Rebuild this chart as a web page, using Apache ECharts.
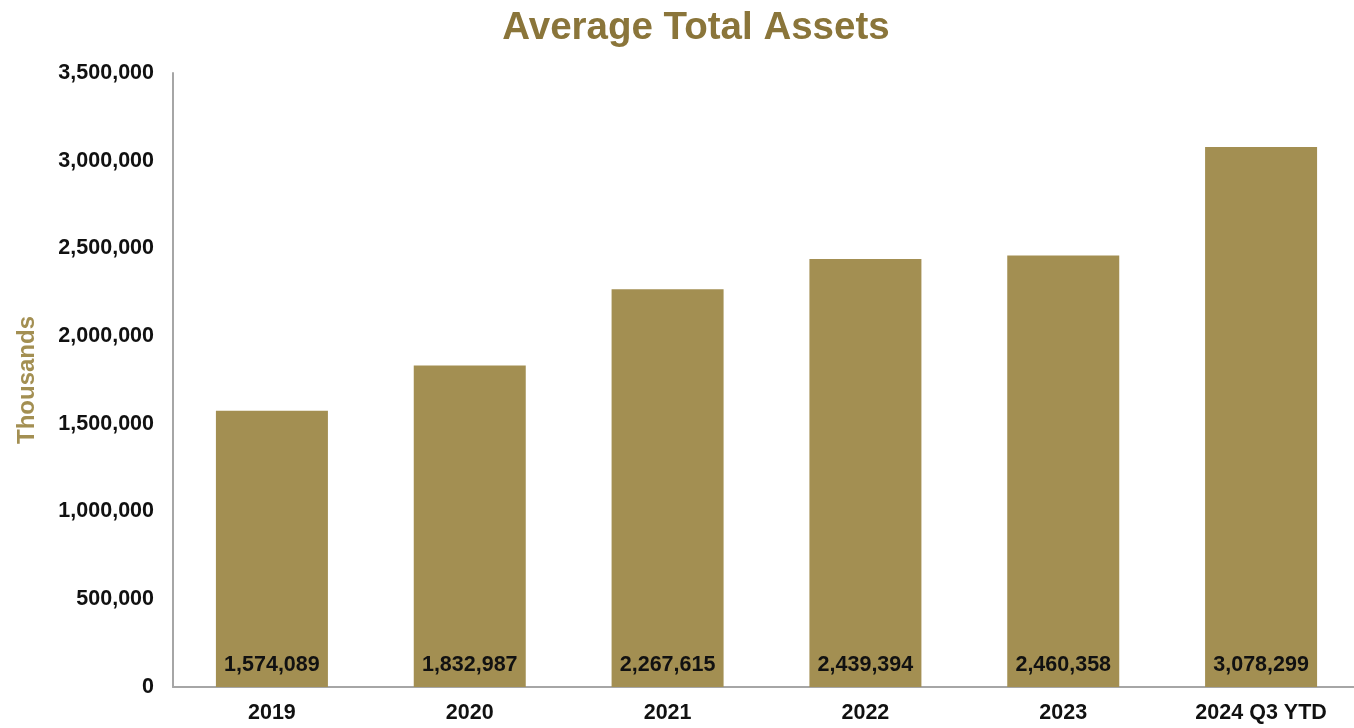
<!DOCTYPE html>
<html>
<head>
<meta charset="utf-8">
<title>Average Total Assets</title>
<script src="https://cdn.jsdelivr.net/npm/echarts@6/dist/echarts.min.js"></script>
<style>
  html, body { margin: 0; padding: 0; background: #ffffff; overflow: hidden; }
  /* canvas is a few pixels wider than the window so the last band runs off the edge */
  #chart { width: 1360px; height: 728px; }
</style>
</head>
<body>
<div id="chart"></div>
<script>
// Average total assets by period (in thousands)
const categories = ['2019', '2020', '2021', '2022', '2023', '2024 Q3 YTD'];
const assets = [1574089, 1832987, 2267615, 2439394, 2460358, 3078299];

const GOLD = '#A38F52';
const TITLE_GOLD = '#8A753A';
const FONT = 'Liberation Sans, Arial, Helvetica, sans-serif';

const fmt = v => Number(v).toLocaleString('en-US');

const chart = echarts.init(document.getElementById('chart'), null, { renderer: 'canvas' });
chart.setOption({
  animation: false,
  backgroundColor: '#ffffff',
  title: {
    text: 'Average Total Assets',
    left: 691,
    textAlign: 'center',
    top: 4,
    textStyle: { color: TITLE_GOLD, fontFamily: FONT, fontWeight: 'bold', fontSize: 38.5 }
  },
  grid: { left: 173, right: 0, top: 73, bottom: 41, containLabel: false },
  xAxis: {
    type: 'category',
    data: categories,
    axisLine: { lineStyle: { color: '#a6a6a6', width: 2 } },
    axisTick: { show: false },
    axisLabel: { color: '#111', fontFamily: FONT, fontWeight: 'bold', fontSize: 21.5, margin: 15 }
  },
  yAxis: {
    type: 'value',
    min: 0,
    max: 3500000,
    interval: 500000,
    name: 'Thousands',
    nameLocation: 'middle',
    nameGap: 134,
    nameRotate: 90,
    nameTextStyle: { color: GOLD, fontFamily: FONT, fontWeight: 'bold', fontSize: 24 },
    axisLine: { show: true, lineStyle: { color: '#a6a6a6', width: 2 } },
    axisTick: { show: false },
    splitLine: { show: false },
    axisLabel: { color: '#111', fontFamily: FONT, fontWeight: 'bold', fontSize: 21.5, margin: 19, formatter: fmt }
  },
  series: [{
    type: 'bar',
    data: assets,
    barWidth: 112,
    itemStyle: { color: GOLD },
    label: {
      show: true,
      position: 'insideBottom',
      distance: 11,
      color: '#111',
      fontFamily: FONT,
      fontWeight: 'bold',
      fontSize: 21.5,
      formatter: p => fmt(p.value)
    }
  }]
});
</script>
</body>
</html>
